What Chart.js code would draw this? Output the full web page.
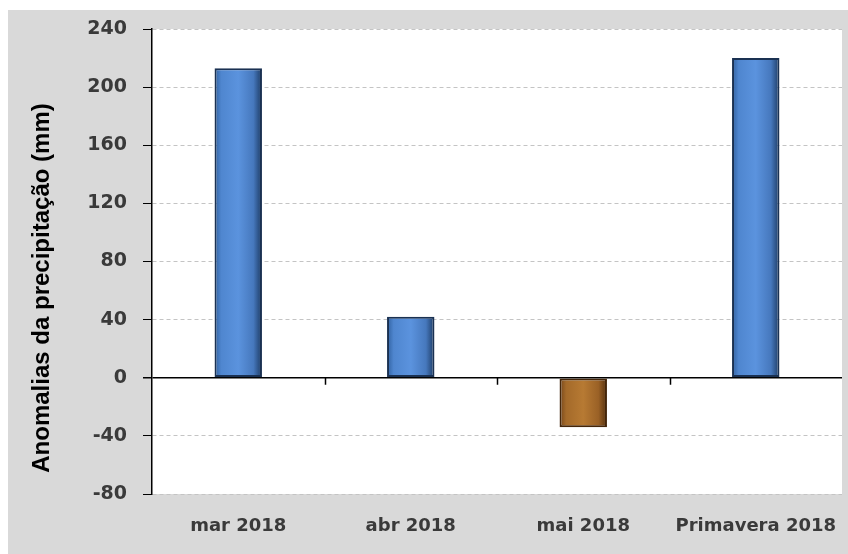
<!DOCTYPE html>
<html>
<head>
<meta charset="utf-8">
<script src="https://cdn.jsdelivr.net/npm/chart.js@4.4.1/dist/chart.umd.min.js"></script>
<style>
    body { margin: 0; background: #fff; }
    #wrap { width: 848px; height: 554px; }
</style>
</head>
<body>
<div id="wrap"><canvas id="anomChart"></canvas></div>
<script>
// Data
const categories = ['mar 2018', 'abr 2018', 'mai 2018', 'Primavera 2018'];
const anomalies = [213, 42, -34, 220];
const yTicks = [-80, -40, 0, 40, 80, 120, 160, 200, 240];
const yTitle = 'Anomalias da precipitação (mm)';

const GREY = '#d9d9d9';
const TEXT = '#3a3a3a';
const BAR_PCT = 0.275;

// horizontal "bevel" gradient for each bar, built from the x scale
function barFill(context) {
    const chart = context.chart;
    const xs = chart.scales.x;
    const pos = context.raw >= 0;
    const flat = pos ? '#5590d8' : '#b0742e';
    if (!xs) return flat;
    const cx = xs.getPixelForValue(context.dataIndex);
    const w = (xs.width / categories.length) * BAR_PCT;
    if (!isFinite(cx) || !isFinite(w) || w <= 0) return flat;
    const g = chart.ctx.createLinearGradient(cx - w / 2, 0, cx + w / 2, 0);
    if (pos) {
        g.addColorStop(0, '#2f5f9e');
        g.addColorStop(0.14, '#4f86cf');
        g.addColorStop(0.5, '#5b93de');
        g.addColorStop(0.82, '#4678bd');
        g.addColorStop(1, '#1c3a63');
    } else {
        g.addColorStop(0, '#74451a');
        g.addColorStop(0.14, '#a46a2a');
        g.addColorStop(0.5, '#b77a33');
        g.addColorStop(0.82, '#9a6126');
        g.addColorStop(1, '#54300e');
    }
    return g;
}

// background panel + plot area
const panelPlugin = {
    id: 'panel',
    beforeDraw(chart) {
        const { ctx, chartArea: a } = chart;
        ctx.save();
        ctx.fillStyle = '#ffffff';
        ctx.fillRect(0, 0, chart.width, chart.height);
        ctx.fillStyle = GREY;
        ctx.fillRect(8, 10, chart.width - 8, chart.height - 10);
        ctx.fillStyle = '#ffffff';
        ctx.fillRect(a.left, a.top, a.right - a.left, a.bottom - a.top);
        ctx.restore();
    }
};

// small ticks on the zero line between categories + y title
const extrasPlugin = {
    id: 'extras',
    afterDraw(chart) {
        const { ctx } = chart;
        const xs = chart.scales.x, ys = chart.scales.y;
        const y0 = ys.getPixelForValue(0);
        const half = xs.width / categories.length / 2;
        ctx.save();
        ctx.strokeStyle = '#000';
        ctx.lineWidth = 1.5;
        for (let i = 0; i < categories.length - 1; i++) {
            const x = Math.round(xs.getPixelForValue(i) + half) + 0.5;
            ctx.beginPath();
            ctx.moveTo(x, y0);
            ctx.lineTo(x, y0 + 7);
            ctx.stroke();
        }
        ctx.translate(42, 288);
        ctx.rotate(-Math.PI / 2);
        ctx.fillStyle = '#000';
        ctx.font = 'bold 24px "Liberation Sans", Arial, sans-serif';
        ctx.textAlign = 'center';
        ctx.textBaseline = 'middle';
        ctx.fillText(yTitle, 0, 0);
        ctx.restore();
    }
};

new Chart(document.getElementById('anomChart'), {
    type: 'bar',
    data: {
        labels: categories,
        datasets: [{
            data: anomalies,
            backgroundColor: barFill,
            borderColor: ctx => ctx.raw >= 0 ? '#1a3152' : '#44260a',
            borderWidth: 2,
            borderSkipped: false,
            categoryPercentage: 1,
            barPercentage: BAR_PCT
        }]
    },
    options: {
        responsive: true,
        maintainAspectRatio: false,
        animation: false,
        layout: { padding: { top: 29, right: 6, left: 0, bottom: 0 } },
        plugins: {
            legend: { display: false },
            tooltip: { enabled: false }
        },
        scales: {
            x: {
                afterFit: s => { s.height = 60; s.paddingLeft = 0; s.paddingRight = 0; },
                grid: { display: false, drawTicks: false },
                border: { display: false },
                ticks: {
                    padding: 22,
                    color: TEXT,
                    font: { family: '"DejaVu Sans", sans-serif', weight: 'bold', size: 18 }
                }
            },
            y: {
                min: -80,
                max: 240,
                afterFit: s => { s.width = 152; },
                afterBuildTicks: s => { s.ticks = yTicks.map(v => ({ value: v })); },
                border: {
                    display: true, color: '#000', width: 1.5,
                    dash: c => (c.tick && c.tick.value !== 0) ? [4, 3] : []
                },
                grid: {
                    color: c => c.tick && c.tick.value === 0 ? '#000' : '#c4c4c4',
                    lineWidth: c => c.tick && c.tick.value === 0 ? 1.5 : 1,
                    tickColor: '#000',
                    tickLength: 9,
                    tickBorderDash: []
                },
                ticks: {
                    padding: 16,
                    color: TEXT,
                    font: { family: '"DejaVu Sans", sans-serif', weight: 'bold', size: 19 }
                }
            }
        }
    },
    plugins: [panelPlugin, extrasPlugin]
});
</script>
</body>
</html>
